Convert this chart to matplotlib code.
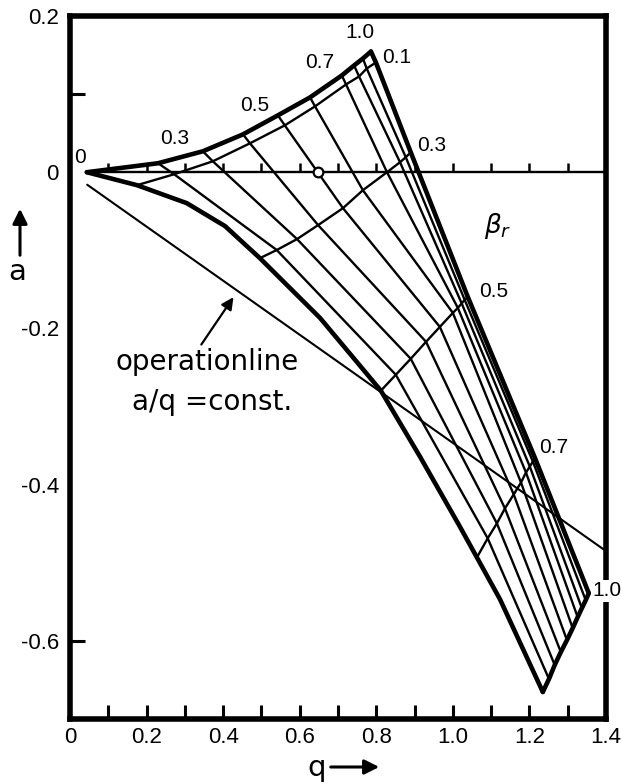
import numpy as np
import matplotlib.pyplot as plt

plt.rcParams['font.family'] = ['Liberation Sans', 'DejaVu Sans']

# net of curves: rows = beta_r = const, columns = lambda nodes along each row
beta_vals = [0.0, 0.1, 0.3, 0.5, 0.7, 1.0]
q_nodes = [
    [0.044, 0.230, 0.347, 0.452, 0.543, 0.627, 0.710, 0.742, 0.765, 0.786],
    [0.175, 0.272, 0.373, 0.470, 0.561, 0.640, 0.721, 0.755, 0.775, 0.799],
    [0.496, 0.540, 0.593, 0.648, 0.713, 0.765, 0.828, 0.862, 0.877, 0.890],
    [0.812, 0.851, 0.890, 0.930, 0.966, 1.000, 1.013, 1.023, 1.031, 1.039],
    [1.063, 1.091, 1.115, 1.136, 1.159, 1.178, 1.191, 1.201, 1.209, 1.214],
    [1.235, 1.251, 1.266, 1.282, 1.298, 1.313, 1.326, 1.337, 1.347, 1.355],
]
a_nodes = [
    [0.000, 0.0115, 0.0268, 0.0485, 0.0728, 0.0958, 0.1239, 0.1367, 0.1456, 0.1545],
    [-0.0166, -0.0026, 0.0140, 0.0370, 0.0600, 0.0843, 0.1124, 0.1226, 0.1328, 0.1405],
    [-0.110, -0.0996, -0.0856, -0.0677, -0.0460, -0.0230, 0.000, 0.0128, 0.0192, 0.0255],
    [-0.2797, -0.2593, -0.2388, -0.2171, -0.1980, -0.1801, -0.1737, -0.1679, -0.1635, -0.1596],
    [-0.493, -0.4687, -0.4496, -0.4304, -0.4125, -0.3972, -0.3844, -0.3768, -0.3704, -0.3653],
    [-0.6654, -0.6488, -0.6309, -0.6143, -0.5990, -0.5837, -0.5696, -0.5581, -0.5479, -0.5390],
]

# lower boundary (lambda = 0)
lam0_q = [0.044, 0.175, 0.305, 0.405, 0.496, 0.653, 0.812, 0.914, 1.018, 1.123, 1.235]
lam0_a = [0.0, -0.0166, -0.0396, -0.0690, -0.110, -0.1865, -0.2797, -0.3640, -0.4534,
          -0.5466, -0.6654]

# operation line a/q = const
op_q = [0.045, 1.40]
op_a = [-0.016, -0.485]

zero_line_q = [0.044, 1.40]
zero_ticks = [0.1, 0.2, 0.3, 0.4, 0.5, 0.6, 0.7, 0.8, 0.9, 1.0, 1.1, 1.2, 1.3]
point_q, point_a = 0.648, 0.0

# labels along top curve
lam_labels = ['0', '0.3', '0.5', '0.7', '1.0']
lam_label_q = [0.026, 0.274, 0.483, 0.653, 0.757]
lam_label_a = [0.019, 0.043, 0.086, 0.140, 0.179]

# beta_r labels along the right boundary
beta_labels = ['0.1', '0.3', '0.5', '0.7', '1.0']
beta_label_q = [0.854, 0.945, 1.107, 1.264, 1.402]
beta_label_a = [0.147, 0.0345, -0.153, -0.352, -0.536]

xtick_vals = [0, 0.2, 0.4, 0.6, 0.8, 1.0, 1.2, 1.4]
xtick_labels = ['0', '0.2', '0.4', '0.6', '0.8', '1.0', '1.2', '1.4']
xminor_vals = [0.1, 0.3, 0.5, 0.7, 0.9, 1.1, 1.3]
ytick_vals = [0.2, 0, -0.2, -0.4, -0.6]
ytick_labels = ['0.2', '0', '-0.2', '-0.4', '-0.6']
yminor_vals = [0.1, -0.6]

qn = np.array(q_nodes)
an = np.array(a_nodes)

fig = plt.figure(figsize=(6.22, 7.84), dpi=100)
ax = fig.add_axes([70 / 622, 65 / 784, 536 / 622, 703 / 784])

thin = 1.7
thick = 3.3
kw = dict(color='black', solid_capstyle='round', solid_joinstyle='round')

# beta_r = const curves
for i in range(len(beta_vals)):
    lw = thick if i in (0, len(beta_vals) - 1) else thin
    ax.plot(qn[i], an[i], lw=lw, **kw)

# lambda = const curves
for j in range(1, qn.shape[1]):
    lw = thick if j == qn.shape[1] - 1 else thin
    ax.plot(qn[:, j], an[:, j], lw=lw, **kw)
ax.plot(lam0_q, lam0_a, lw=thick, **kw)

# operation line, zero line and its ticks
ax.plot(op_q, op_a, lw=1.5, **kw)
ax.plot(zero_line_q, [0, 0], lw=thin, **kw)
ax.vlines(zero_ticks, 0, 0.0115, color='black', lw=1.8)
ax.plot(point_q, point_a, 'o', mfc='white', mec='black', ms=7, mew=1.6, zorder=5)

for s, x, y in zip(lam_labels, lam_label_q, lam_label_a):
    ax.text(x, y, s, ha='center', va='center', fontsize=15)
for s, x, y in zip(beta_labels, beta_label_q, beta_label_a):
    t = ax.text(x, y, s, ha='center', va='center', fontsize=15, zorder=6, clip_on=False)
    if s == '1.0':
        t.set_bbox(dict(facecolor='white', edgecolor='none', pad=1))
ax.text(1.117, -0.069, r'$\beta_r$', ha='center', va='center', fontsize=19)

ax.text(0.359, -0.243, 'operationline', ha='center', va='center', fontsize=20,
        family='DejaVu Sans')
ax.text(0.371, -0.294, 'a/q =const.', ha='center', va='center', fontsize=20,
        family='DejaVu Sans')
ax.annotate('', xy=(0.431, -0.157), xytext=(0.339, -0.2235),
            arrowprops=dict(arrowstyle='-|>', color='black', lw=1.6, mutation_scale=18))

ax.set_xlim(0, 1.4)
ax.set_ylim(-0.7, 0.2)

ax.set_xticks(xtick_vals)
ax.set_xticklabels(xtick_labels)
ax.set_xticks(xminor_vals, minor=True)
ax.set_yticks(ytick_vals)
ax.set_yticklabels(ytick_labels)
ax.set_yticks(yminor_vals, minor=True)
ax.yaxis.remove_overlapping_locs = False
ax.tick_params(axis='x', which='both', direction='in', length=10, width=2.2,
               labelsize=16, pad=6)
ax.tick_params(axis='y', which='major', length=0, labelsize=16, pad=8)
ax.tick_params(axis='y', which='minor', direction='in', length=11, width=2.2)

for sp in ax.spines.values():
    sp.set_linewidth(4)

# axis labels with arrows
fig.text(17 / 622, 1 - 272 / 784, 'a', ha='center', va='center', fontsize=21,
         family='DejaVu Sans')
ax.annotate('', xy=(20 / 622, 1 - 206 / 784), xytext=(20 / 622, 1 - 258 / 784),
            xycoords='figure fraction',
            arrowprops=dict(arrowstyle='-|>', color='black', lw=2.2, mutation_scale=22))
fig.text(317 / 622, 1 - 768 / 784, 'q', ha='center', va='center', fontsize=21,
         family='DejaVu Sans')
ax.annotate('', xy=(382 / 622, 1 - 767 / 784), xytext=(328 / 622, 1 - 767 / 784),
            xycoords='figure fraction',
            arrowprops=dict(arrowstyle='-|>', color='black', lw=2.2, mutation_scale=22))

fig.savefig('out.png', dpi=100)
